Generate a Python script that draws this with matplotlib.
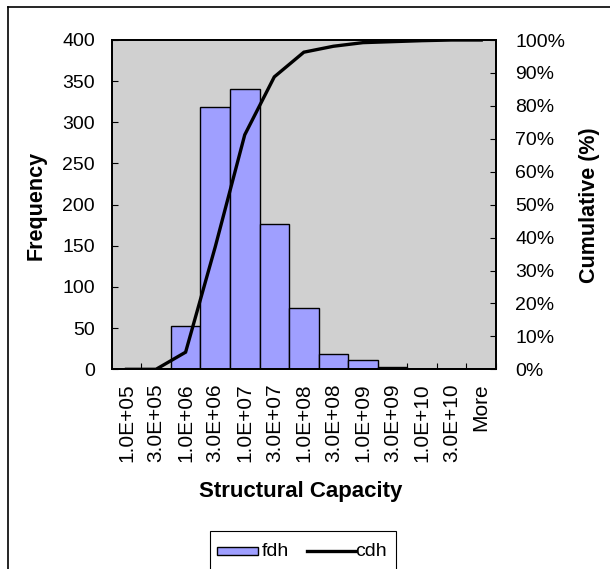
import matplotlib
matplotlib.use("Agg")
import matplotlib.pyplot as plt
from matplotlib.lines import Line2D
from matplotlib.patches import Rectangle
from matplotlib.ticker import FuncFormatter, FixedLocator
import numpy as np

categories = ["1.0E+05", "3.0E+05", "1.0E+06", "3.0E+06", "1.0E+07", "3.0E+07",
              "1.0E+08", "3.0E+08", "1.0E+09", "3.0E+09", "1.0E+10", "3.0E+10", "More"]
fdh = [0, 0, 52, 319, 341, 176, 75, 18, 11, 3, 0, 0, 0]
cdh = [0.0, 0.0, 5.2, 37.1, 71.2, 88.8, 96.3, 98.1, 99.2, 99.5, 99.8, 100.0, 100.0]
freq_ticks = [0, 50, 100, 150, 200, 250, 300, 350, 400]
pct_ticks = [0, 10, 20, 30, 40, 50, 60, 70, 80, 90, 100]

W, H = 610, 569
plt.rcParams['font.family'] = ['Liberation Sans', 'DejaVu Sans']
fig = plt.figure(figsize=(W / 100, H / 100), dpi=100)
fig.patch.set_facecolor('white')

L, R, T, B = 111.7, 496.0, 40.0, 369.3
ax = fig.add_axes([L / W, 1 - B / H, (R - L) / W, (B - T) / H])
ax.set_facecolor('#d0d0d0')
x = np.arange(len(categories))
ax.bar(x, fdh, width=1.0, color='#9f9fff', edgecolor='black', linewidth=1.0, zorder=2)
ax.set_xlim(-0.5, len(categories) - 0.5)
ax.set_ylim(0, 400)
ax.set_yticks(freq_ticks)
ax.set_xticks(x)
ax.set_xticklabels(categories, rotation=90, fontsize=15)
ax.xaxis.set_minor_locator(FixedLocator(np.arange(len(categories)) + 0.5))
ax.tick_params(axis='x', which='major', length=0, pad=10)
ax.tick_params(axis='x', which='minor', direction='in', length=4, width=0.8)
ax.tick_params(axis='y', direction='in', length=4, width=0.8, labelsize=14, pad=12)
for s in ax.spines.values():
    s.set_linewidth(1.3)

ax2 = ax.twinx()
ax2.plot(x, np.array(cdh) / 100.0, color='black', linewidth=2.4, zorder=3, solid_joinstyle='miter')
ax2.set_ylim(0, 1.0)
ax2.set_yticks(np.array(pct_ticks) / 100.0)
ax2.yaxis.set_major_formatter(FuncFormatter(lambda v, p: f"{v*100:.0f}%"))
ax2.tick_params(axis='y', direction='in', length=4, width=0.8, labelsize=14, pad=14)
for s in ax2.spines.values():
    s.set_linewidth(1.3)

fig.text(36 / W, 1 - 205 / H, "Frequency", rotation=90, ha='center', va='center',
         fontsize=15.5, fontweight='bold')
fig.text(590 / W, 1 - 205 / H, "Cumulative (%)", rotation=90, ha='center', va='center',
         fontsize=15.5, fontweight='bold')
fig.text(301 / W, 1 - 492 / H, "Structural Capacity", ha='center', va='center',
         fontsize=16, fontweight='bold')

# outer chart border (left and top visible)
fig.add_artist(Line2D([8 / W, 8 / W], [0, 1 - 7 / H], transform=fig.transFigure,
                      color='black', linewidth=1.2))
fig.add_artist(Line2D([8 / W, 1], [1 - 7 / H, 1 - 7 / H], transform=fig.transFigure,
                      color='black', linewidth=1.2))

# legend
fig.add_artist(Rectangle((210 / W, -0.05), (396 - 210) / W, (1 - 531 / H) + 0.05,
                         transform=fig.transFigure, facecolor='white',
                         edgecolor='black', linewidth=0.8))
fig.add_artist(Rectangle((217 / W, 1 - 555 / H), (258 - 217) / W, 8 / H,
                         transform=fig.transFigure, facecolor='#9f9fff',
                         edgecolor='black', linewidth=1.0))
fig.text(262 / W, 1 - 551 / H, "fdh", ha='left', va='center', fontsize=14)
fig.add_artist(Line2D([307 / W, 355 / W], [1 - 551 / H, 1 - 551 / H],
                      transform=fig.transFigure, color='black', linewidth=2.4))
fig.text(355 / W, 1 - 551 / H, "cdh", ha='left', va='center', fontsize=14)

fig.savefig("out.png", dpi=100)
